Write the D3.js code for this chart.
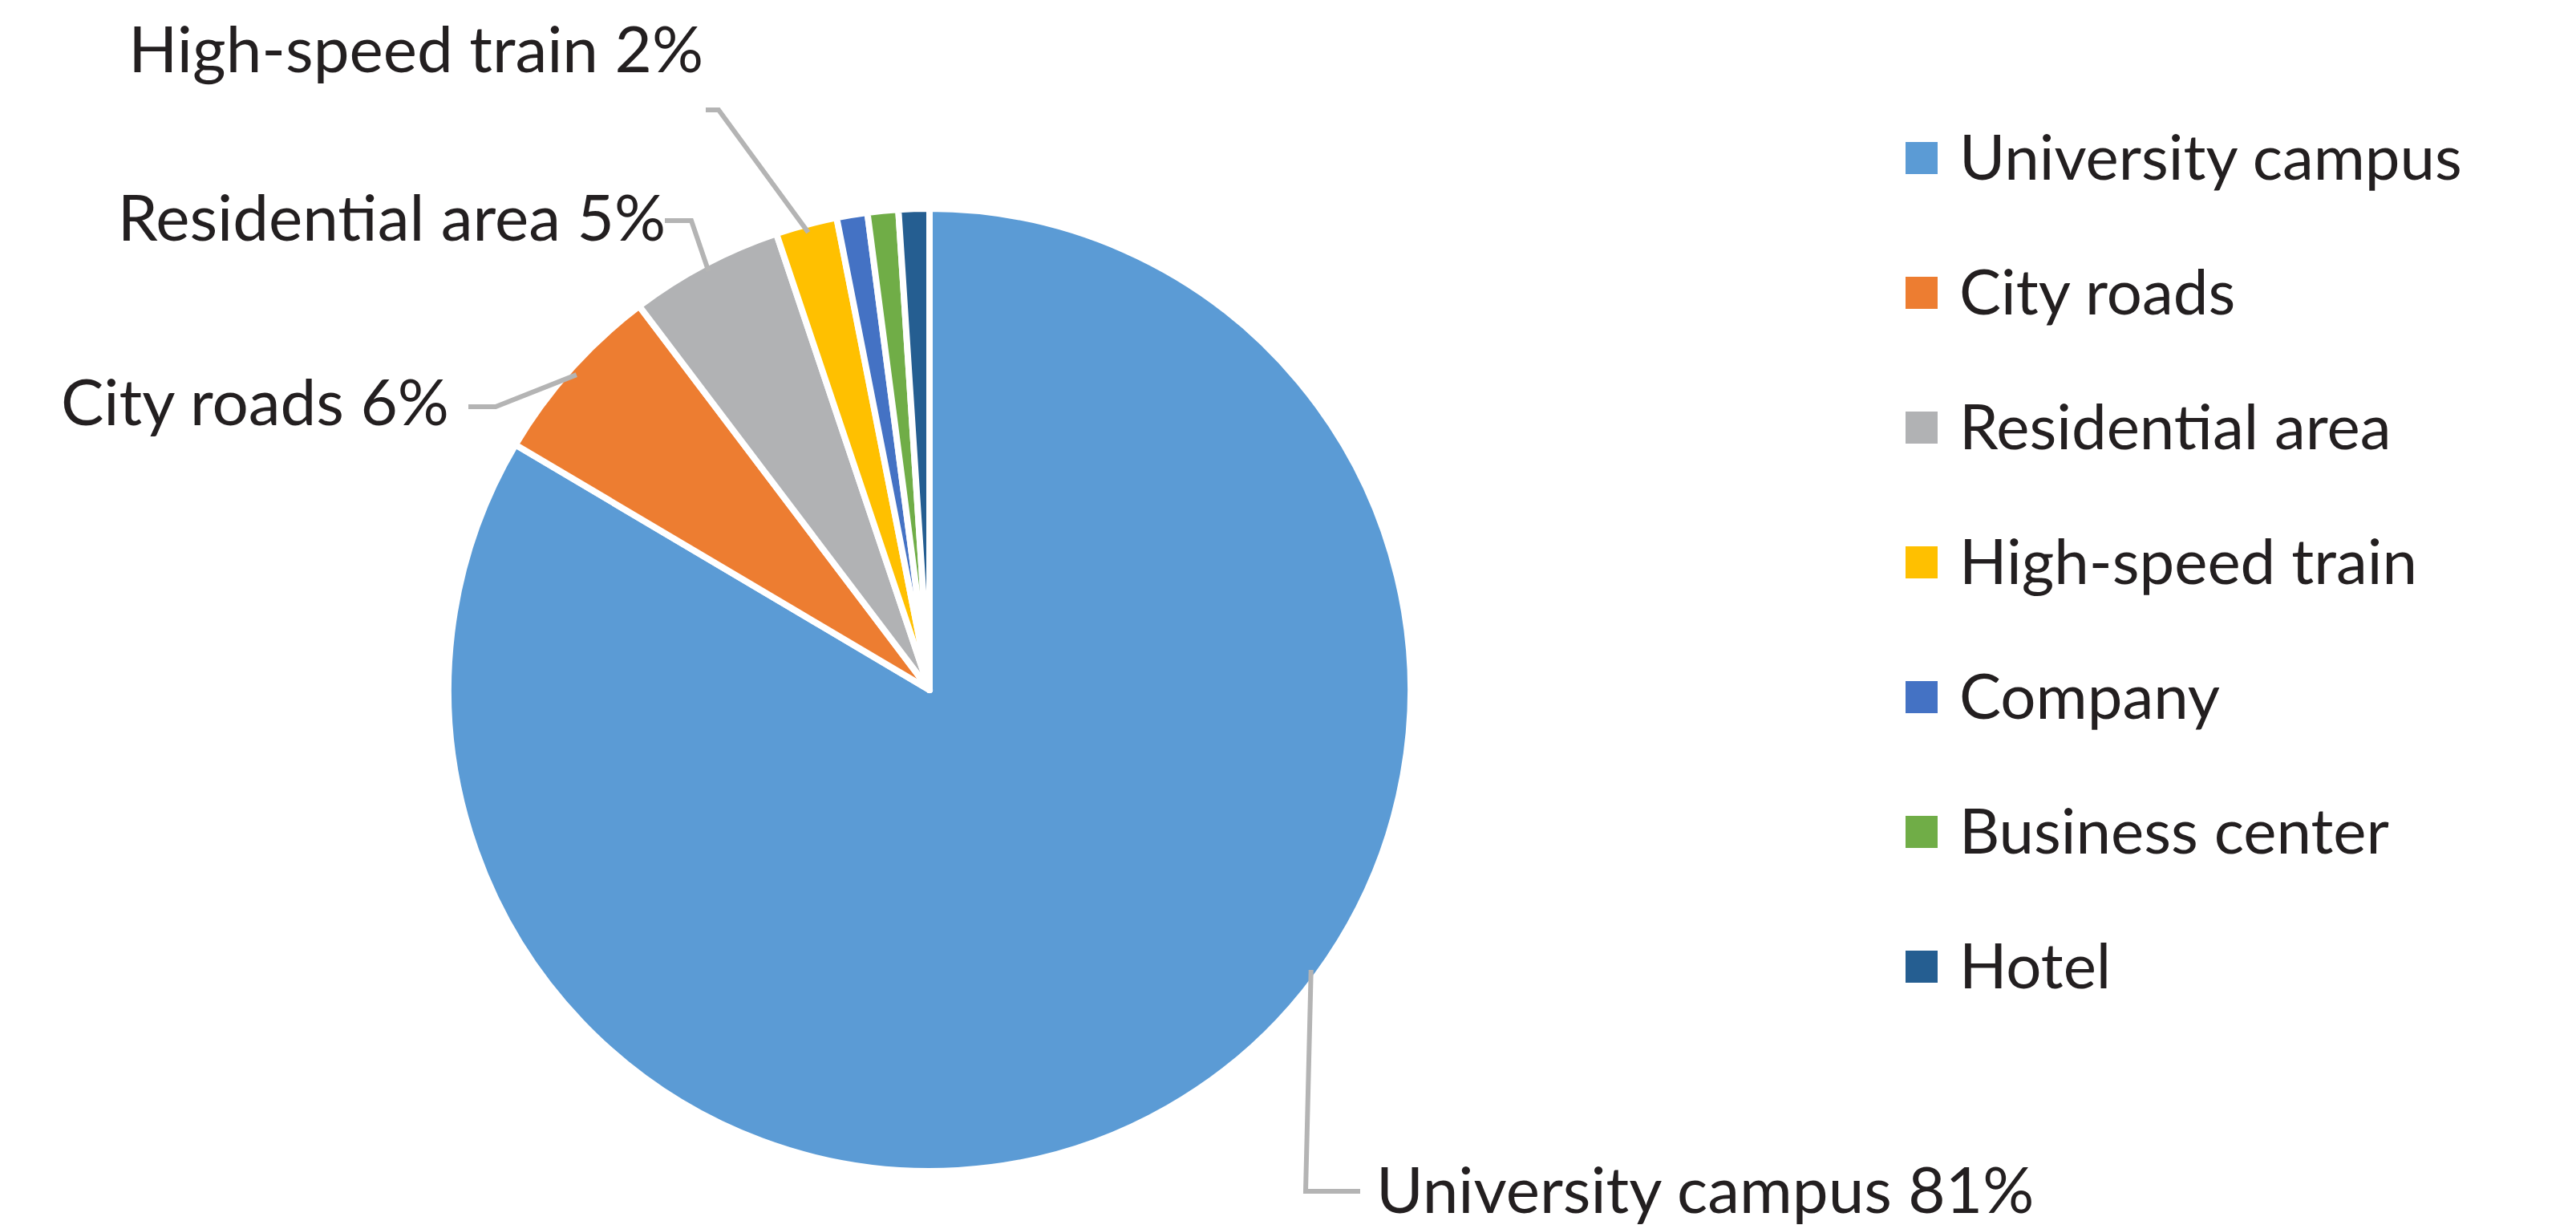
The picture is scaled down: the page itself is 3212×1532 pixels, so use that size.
<!DOCTYPE html>
<html>
<head>
<meta charset="utf-8">
<script src="https://cdn.jsdelivr.net/npm/d3@7"></script>
<style>
  body { margin: 0; background: #fff; }
  text { font-family: Lato, "Open Sans", sans-serif; fill: #231f20; }
</style>
</head>
<body>
<div id="chart"></div>
<script>
// Data
var categories = ["University campus", "City roads", "Residential area", "High-speed train", "Company", "Business center", "Hotel"];
var values = [81, 6, 5, 2, 1, 1, 1];
var colors = ["#5b9bd5", "#ed7d31", "#b1b2b4", "#ffc000", "#4472c4", "#70ad47", "#255e91"];

// Which slices get an outside label, and where that label sits
var labelled = [0, 1, 2, 3];
var labelPos = {
  0: { elbow: [1628, 1485], end: [1696, 1485], tx: 1716, ty: 1512, anchor: "start" },
  1: { elbow: [618, 507], end: [584, 507], tx: 560, ty: 530, anchor: "end" },
  2: { elbow: [862, 275], end: [829, 275], tx: 830, ty: 300, anchor: "end" },
  3: { elbow: [896, 137], end: [880, 137], tx: 877, ty: 90, anchor: "end" }
};

var width = 3212, height = 1532;
var cx = 1159, cy = 860, radius = 600;

var svg = d3.select("#chart").append("svg")
  .attr("width", width)
  .attr("height", height);

var pie = d3.pie().sort(null).value(function(d) { return d; });
var arcs = pie(values);
var arc = d3.arc().innerRadius(0).outerRadius(radius);

var g = svg.append("g").attr("transform", "translate(" + cx + "," + cy + ")");

g.selectAll("path.slice")
  .data(arcs)
  .enter()
  .append("path")
  .attr("class", "slice")
  .attr("d", arc)
  .attr("fill", function(d, i) { return colors[i]; })
  .attr("stroke", "#fff")
  .attr("stroke-width", 8)
  .attr("stroke-linejoin", "round");

// leader lines + labels
labelled.forEach(function(i) {
  var a = arcs[i];
  var mid = (a.startAngle + a.endAngle) / 2;
  if (i === 0) mid = a.startAngle + (a.endAngle - a.startAngle) * 0.42;
  var sx = cx + Math.sin(mid) * (radius - 10);
  var sy = cy - Math.cos(mid) * (radius - 10);
  var p = labelPos[i];
  svg.append("polyline")
    .attr("points", [[sx, sy], p.elbow, p.end].map(function(q) { return q.join(","); }).join(" "))
    .attr("fill", "none")
    .attr("stroke", "#b4b4b4")
    .attr("stroke-width", 6);
  svg.append("text")
    .attr("x", p.tx)
    .attr("y", p.ty)
    .attr("text-anchor", p.anchor)
    .attr("font-size", 80)
    .text(categories[i] + " " + values[i] + "%");
});

// Legend
var legend = svg.append("g").attr("transform", "translate(2376,197)");
var items = legend.selectAll("g.item")
  .data(categories)
  .enter()
  .append("g")
  .attr("class", "item")
  .attr("transform", function(d, i) { return "translate(0," + (i * 168) + ")"; });
items.append("rect")
  .attr("x", 0).attr("y", -20)
  .attr("width", 40).attr("height", 40)
  .attr("fill", function(d, i) { return colors[i]; });
items.append("text")
  .attr("x", 67)
  .attr("y", 27)
  .attr("font-size", 78)
  .text(function(d) { return d; });
</script>
</body>
</html>
